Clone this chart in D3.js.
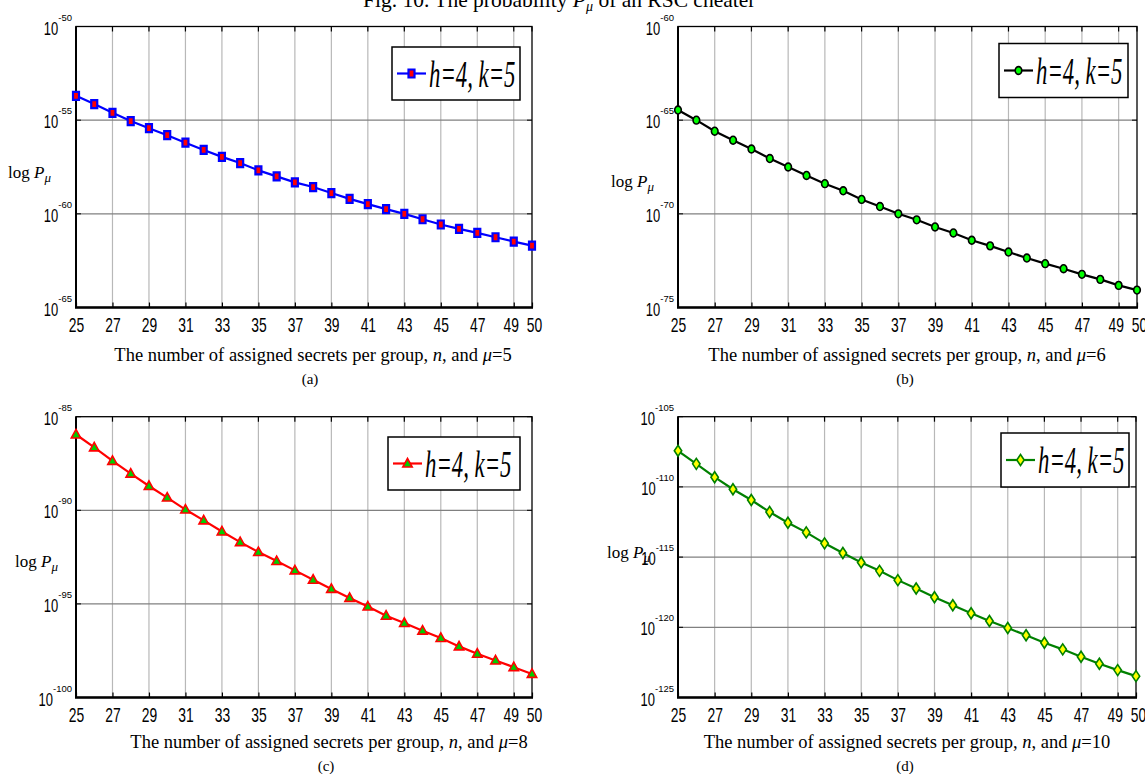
<!DOCTYPE html>
<html><head><meta charset="utf-8">
<script src="https://cdn.jsdelivr.net/npm/d3@7"></script>
<style>
html,body{margin:0;padding:0;background:#fff;}
svg{display:block;}
</style></head>
<body>
<svg id="chart" width="1145" height="774"></svg>
<script>
// ---- data (log10 of P_mu) ----
const nValues = d3.range(25, 51);
const xTickLabels = [25,27,29,31,33,35,37,39,41,43,45,47,49,50];
const logPa = [-53.70,-54.14,-54.61,-55.05,-55.43,-55.80,-56.20,-56.59,-56.96,-57.29,-57.68,-58.00,-58.32,-58.57,-58.89,-59.20,-59.48,-59.75,-60.00,-60.29,-60.57,-60.80,-61.02,-61.25,-61.48,-61.70];
const logPb = [-64.46,-65.00,-65.59,-66.07,-66.54,-67.05,-67.50,-67.95,-68.39,-68.77,-69.23,-69.61,-70.00,-70.32,-70.70,-71.02,-71.41,-71.71,-72.04,-72.36,-72.66,-72.93,-73.23,-73.50,-73.82,-74.07];
const logPc = [-85.95,-86.64,-87.36,-88.04,-88.70,-89.32,-89.96,-90.54,-91.13,-91.70,-92.23,-92.71,-93.21,-93.71,-94.20,-94.68,-95.14,-95.63,-96.02,-96.43,-96.82,-97.27,-97.66,-98.02,-98.38,-98.74];
const logPd = [-107.43,-108.36,-109.31,-110.17,-110.93,-111.79,-112.55,-113.24,-114.02,-114.71,-115.38,-115.98,-116.64,-117.24,-117.86,-118.43,-119.00,-119.55,-120.05,-120.57,-121.10,-121.57,-122.10,-122.60,-123.05,-123.48];
const yExpA = [-50,-55,-60,-65];
const yExpB = [-60,-65,-70,-75];
const yExpC = [-85,-90,-95,-100];
const yExpD = [-105,-110,-115,-120,-125];
const muValues = ["5","6","8","10"];
const panelLetters = ["(a)","(b)","(c)","(d)"];
const legendLabel = "h=4, k=5";

const svg = d3.select("#chart");
const serif = "'Liberation Serif','Times New Roman',serif";
const sans = "'Liberation Sans',Arial,sans-serif";

// title (cut at top)
svg.append("text").attr("x", 363).attr("y", 7)
  .style("font-family", serif).style("font-size","21.5px")
  .html('Fig. 10. The probability <tspan font-style="italic">P</tspan><tspan font-style="italic" font-size="14" dy="4">μ</tspan><tspan dy="-4"> of an RSC cheater</tspan>');

const panels = [
  {box:[76,532,26.5,307.5], exps:yExpA, data:logPa, line:"#0000ff", marker:"square", mfill:"#ff0000", mstroke:"#0000ff",
   legend:[392,520,47,100], ylab:[8,178], xlab:[313,361], letter:[310,384]},
  {box:[678,1137,26.5,307.5], exps:yExpB, data:logPb, line:"#000000", marker:"circle", mfill:"#00ff00", mstroke:"#000000",
   legend:[999,1128,43.5,97.5], ylab:[611,187], xlab:[907,361], letter:[905,384]},
  {box:[76,532,416.7,697.5], exps:yExpC, data:logPc, line:"#ff0000", marker:"triangle", mfill:"#00cc00", mstroke:"#ff0000",
   legend:[388,520,437,490], ylab:[15,567], xlab:[329,748], letter:[326,771]},
  {box:[678,1136,416.7,697.5], exps:yExpD, data:logPd, line:"#008000", marker:"diamond", mfill:"#ffff00", mstroke:"#008000",
   legend:[1001,1129,433,487], ylab:[607,558], xlab:[907,748], letter:[905,771]}
];

function markerPath(type){
  if(type==="square") return "M-3,-4H3V4H-3Z";
  if(type==="circle") return "M0,-3.9A3.3,3.9 0 1,1 0,3.9A3.3,3.9 0 1,1 0,-3.9Z";
  if(type==="triangle") return "M0,-5L4.7,3.5L-4.7,3.5Z";
  return "M0,-5.5L3.7,0L0,5.5L-3.7,0Z";
}

panels.forEach((p, i) => {
  const [x0,x1,y0,y1] = p.box;
  const g = svg.append("g");
  const x = d3.scaleLinear().domain([25,50]).range([x0,x1]);
  const y = d3.scaleLog().domain([Math.pow(10,d3.min(p.exps)), Math.pow(10,d3.max(p.exps))]).range([y1,y0]);

  // vertical grid
  const gridX = xTickLabels.filter(v => v!==25 && v!==50);
  g.append("g").selectAll("line").data(gridX).join("line")
    .attr("x1", d=>x(d)).attr("x2", d=>x(d)).attr("y1", y0).attr("y2", y1)
    .attr("stroke","#b8b8b8").attr("stroke-width",1.2);
  // horizontal grid
  const gridY = p.exps.slice(1,-1);
  g.append("g").selectAll("line").data(gridY).join("line")
    .attr("x1", x0).attr("x2", x1).attr("y1", d=>y(Math.pow(10,d))).attr("y2", d=>y(Math.pow(10,d)))
    .attr("stroke","#808080").attr("stroke-width",1.2);

  // box
  g.append("rect").attr("x",x0).attr("y",y0).attr("width",x1-x0).attr("height",y1-y0)
    .attr("fill","none").attr("stroke","#000").attr("stroke-width",1.3);
  g.append("line").attr("x1",x0-1).attr("x2",x1+1).attr("y1",y1).attr("y2",y1).attr("stroke","#000").attr("stroke-width",2.6);
  g.append("line").attr("x1",x0).attr("x2",x0).attr("y1",y0).attr("y2",y1).attr("stroke","#000").attr("stroke-width",2);

  // x ticks (inward, top & bottom) and labels through a d3 axis
  const xa = g.append("g").attr("transform",`translate(0,${y1})`)
    .call(d3.axisBottom(x).tickValues(xTickLabels).tickSize(-5).tickPadding(0).tickFormat(d=>d));
  xa.select(".domain").remove();
  xa.selectAll(".tick line").attr("stroke","#000").attr("stroke-width",1.2);
  xa.selectAll(".tick text")
    .attr("y",0).attr("dy",0)
    .attr("transform", d => `translate(${d===49?-3:(d===50?2:0)},24) scale(0.66,1)`)
    .style("font-family",sans).style("font-size","21px").attr("fill","#000");
  g.append("g").selectAll("line").data(xTickLabels).join("line")
    .attr("x1",d=>x(d)).attr("x2",d=>x(d)).attr("y1",y0).attr("y2",y0+5).attr("stroke","#000").attr("stroke-width",1.2);
  // y ticks left & right
  g.append("g").selectAll("line").data(p.exps).join("line")
    .attr("x1",x0).attr("x2",x0+5).attr("y1",d=>y(Math.pow(10,d))).attr("y2",d=>y(Math.pow(10,d))).attr("stroke","#000");
  g.append("g").selectAll("line").data(p.exps).join("line")
    .attr("x1",x1-5).attr("x2",x1).attr("y1",d=>y(Math.pow(10,d))).attr("y2",d=>y(Math.pow(10,d))).attr("stroke","#000");

  // y tick labels 10^e : exponent (small) right-aligned at the axis, "10" (condensed) before it
  p.exps.forEach(e => {
    const gy = y(Math.pow(10,e));
    const et = g.append("text").attr("x", x0-4).attr("y", gy-6).attr("text-anchor","end")
      .style("font-family",sans).style("font-size","9.5px").attr("fill","#000").text(e);
    const w = et.node().getComputedTextLength();
    g.append("text").attr("transform", `translate(${x0-4-w},${gy+8}) scale(0.72,1)`)
      .attr("text-anchor","end").style("font-family",sans).style("font-size","18px").attr("fill","#000").text("10");
  });

  // line + markers
  const pts = nValues.map((n,k)=>[n, Math.pow(10,p.data[k])]);
  g.append("path").datum(pts)
    .attr("d", d3.line().x(d=>x(d[0])).y(d=>y(d[1])))
    .attr("fill","none").attr("stroke",p.line).attr("stroke-width",2.2);
  g.append("g").selectAll("path").data(pts).join("path")
    .attr("transform", d=>`translate(${x(d[0])},${y(d[1])})`)
    .attr("d", markerPath(p.marker))
    .attr("fill",p.mfill).attr("stroke",p.mstroke).attr("stroke-width", p.marker==="square"?2.2:1.6);

  // legend
  const [lx0,lx1,ly0,ly1] = p.legend;
  const lg = g.append("g");
  lg.append("rect").attr("x",lx0).attr("y",ly0).attr("width",lx1-lx0).attr("height",ly1-ly0)
    .attr("fill","#fff").attr("stroke","#000").attr("stroke-width",1.5);
  const ly = (ly0+ly1)/2;
  lg.append("line").attr("x1",lx0+5).attr("x2",lx0+34).attr("y1",ly).attr("y2",ly)
    .attr("stroke",p.line).attr("stroke-width",2.2);
  lg.append("path").attr("transform",`translate(${lx0+19.5},${ly})`).attr("d",markerPath(p.marker))
    .attr("fill",p.mfill).attr("stroke",p.mstroke).attr("stroke-width",p.marker==="square"?2.2:1.6);
  lg.append("text").attr("transform",`translate(${lx0+37},${ly+13}) scale(0.6,1)`)
    .style("font-family",serif).style("font-style","italic").style("font-size","38px").attr("fill","#000")
    .text(legendLabel);

  // y label
  svg.append("text").attr("x",p.ylab[0]).attr("y",p.ylab[1])
    .style("font-family",serif).style("font-size","17px")
    .html('log <tspan font-style="italic">P</tspan><tspan font-style="italic" font-size="13" dy="4">μ</tspan>');

  // x label
  svg.append("text").attr("x",p.xlab[0]).attr("y",p.xlab[1]).attr("text-anchor","middle")
    .style("font-family",serif).style("font-size","18.5px")
    .html(`The number of assigned secrets per group, <tspan font-style="italic">n</tspan>, and <tspan font-style="italic">μ</tspan>=${muValues[i]}`);
  svg.append("text").attr("x",p.letter[0]).attr("y",p.letter[1]).attr("text-anchor","middle")
    .style("font-family",serif).style("font-size","15px").text(panelLetters[i]);
});
</script>
</body></html>
